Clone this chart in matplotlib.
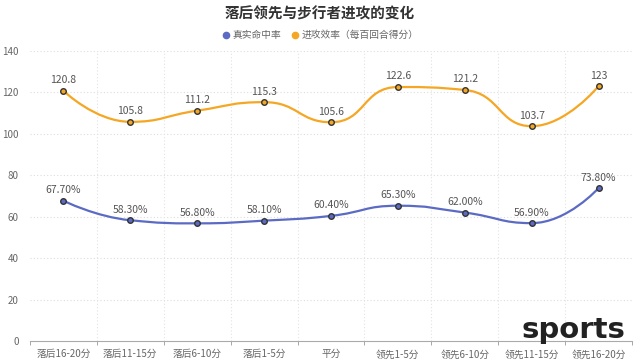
import matplotlib
matplotlib.use("Agg")
import matplotlib.pyplot as plt
from matplotlib.path import Path
from matplotlib.patches import PathPatch
from matplotlib.lines import Line2D
import numpy as np

plt.rcParams['font.family'] = ['Noto Sans CJK SC', 'DejaVu Sans']

categories = ["落后16-20分", "落后11-15分", "落后6-10分", "落后1-5分", "平分",
              "领先1-5分", "领先6-10分", "领先11-15分", "领先16-20分"]
ts_pct = [67.7, 58.3, 56.8, 58.1, 60.4, 65.3, 62.0, 56.9, 73.8]
off_eff = [120.8, 105.8, 111.2, 115.3, 105.6, 122.6, 121.2, 103.7, 123]
series_names = ["真实命中率", "进攻效率（每百回合得分）"]
title = "落后领先与步行者进攻的变化"
yticks = [0, 20, 40, 60, 80, 100, 120, 140]

blue = "#5b6bc4"
orange = "#f5a623"

fig = plt.figure(figsize=(6.4, 3.61), dpi=100)
ax = fig.add_axes([30/640, 1-341/361, 602/640, 290/361])

n = len(categories)
x = np.arange(n)
ymax = 140
sx = 602 / n
sy = 290 / ymax


def clamp(v, a, b):
    return min(max(v, min(a, b)), max(a, b))


def smooth_path(xs, ys, smooth=0.5):
    P = [(float(a) * sx, float(b) * sy) for a, b in zip(xs, ys)]
    m = len(P)
    verts = [P[0]]
    codes = [Path.MOVETO]
    cpx0, cpy0 = P[0]
    for i in range(1, m):
        x_, y_ = P[i]
        px, py = P[i-1]
        if i == m - 1:
            ncx, ncy = x_, y_
            cpx1, cpy1 = x_, y_
        else:
            nx, ny = P[i+1]
            vx, vy = nx - px, ny - py
            l0 = np.hypot(x_ - px, y_ - py)
            l1 = np.hypot(nx - x_, ny - y_)
            r = l1 / (l0 + l1)
            cpx1 = x_ + vx * smooth * r
            cpy1 = y_ + vy * smooth * r
            cpx1 = clamp(cpx1, nx, x_)
            cpy1 = clamp(cpy1, ny, y_)
            vx, vy = cpx1 - x_, cpy1 - y_
            ncx = x_ - vx * l0 / l1
            ncy = y_ - vy * l0 / l1
            ncx = clamp(ncx, px, x_)
            ncy = clamp(ncy, py, y_)
            vx, vy = x_ - ncx, y_ - ncy
            cpx1 = x_ + vx * l1 / l0
            cpy1 = y_ + vy * l1 / l0
        verts += [(cpx0, cpy0), (ncx, ncy), (x_, y_)]
        codes += [Path.CURVE4] * 3
        cpx0, cpy0 = cpx1, cpy1
    verts = np.array(verts)
    verts[:, 0] /= sx
    verts[:, 1] /= sy
    return Path(verts, codes)


for vals, col, fmt in [(off_eff, orange, lambda v: f"{v:g}"),
                       (ts_pct, blue, lambda v: f"{v:.2f}%")]:
    p = smooth_path(x, vals)
    ax.add_patch(PathPatch(p, facecolor='none', edgecolor=col, lw=1.6, zorder=3))
    ax.plot(x, vals, 'o', ms=4, mfc=col, mec='#333333', mew=1.0, zorder=4)
    for xi, v in zip(x, vals):
        ax.annotate(fmt(v), (xi, v), xytext=(0, 4), textcoords='offset points',
                    ha='center', va='bottom', fontsize=7.5, color='#555555', zorder=5)

ax.set_xlim(-0.5, n - 0.5)
ax.set_ylim(0, ymax)
ax.set_yticks(yticks)
ax.set_yticklabels([str(t) for t in yticks])
ax.set_xticks(x)
ax.set_xticklabels(categories)
ax.set_xticks(np.arange(n + 1) - 0.5, minor=True)
ax.tick_params(axis='x', which='major', length=0, labelsize=7, colors='#666666', pad=6)
ax.tick_params(axis='x', which='minor', length=3, color='#999999')
ax.tick_params(axis='y', length=0, labelsize=7, colors='#666666', pad=8)

for sp in ['top', 'right', 'left']:
    ax.spines[sp].set_visible(False)
ax.spines['bottom'].set_color('#aaaaaa')
ax.spines['bottom'].set_linewidth(0.8)

for yt in yticks[1:]:
    ax.axhline(yt, color='#dddddd', lw=0.8, ls=(0, (1, 2)), zorder=1)
for xb in np.arange(1, n) - 0.5:
    ax.axvline(xb, color='#e3e3e3', lw=0.8, ls=(0, (1, 2)), zorder=1)

fig.text(0.5, 1 - 14/361, title, ha='center', va='center', fontsize=10.5,
         fontweight='bold', color='#333333')

handles = [Line2D([], [], ls='none', marker='o', ms=4.5, mfc=blue, mec=blue),
           Line2D([], [], ls='none', marker='o', ms=4.5, mfc=orange, mec=orange)]
fig.legend(handles, series_names, loc='center', bbox_to_anchor=(0.5, 1 - 35/361),
           ncol=2, frameon=False, fontsize=7, handletextpad=0.2, columnspacing=0.9,
           labelcolor='#666666', handlelength=1.0)

fig.text(625/640, 1 - 330/361, "sports", ha='right', va='center', fontsize=21,
         fontweight='bold', color='#222222', family='DejaVu Sans', zorder=10)

fig.savefig("out.png", dpi=100)
